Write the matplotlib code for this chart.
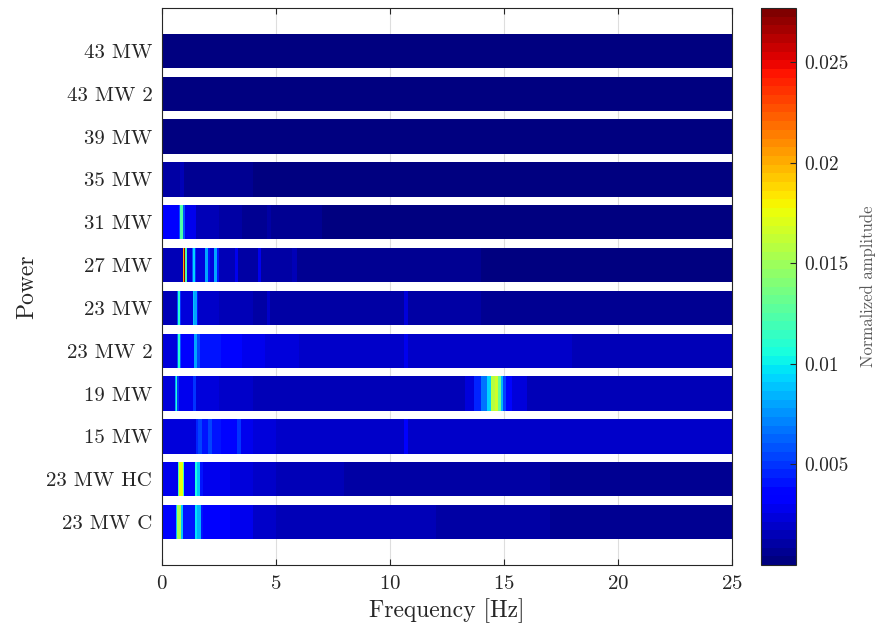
import numpy as np
import matplotlib
matplotlib.use('Agg')
import matplotlib.pyplot as plt
from matplotlib.colors import Normalize

plt.rcParams['font.family'] = ['cmr10', 'DejaVu Serif']
plt.rcParams['axes.formatter.use_mathtext'] = True

# row labels, top to bottom
labels = ['43 MW', '43 MW 2', '39 MW', '35 MW', '31 MW', '27 MW',
          '23 MW', '23 MW 2', '19 MW', '15 MW', '23 MW HC', '23 MW C']

# spectra: (upper frequency of segment [Hz], amplitude)
mw43 = [(3.0, 0.0004), (25.0, 0.0003)]
mw43_2 = [(3.0, 0.0004), (25.0, 0.0003)]
mw39 = [(3.0, 0.0004), (25.0, 0.0003)]
mw35 = [(0.8, 0.0011), (0.95, 0.0015), (2.0, 0.0007), (4.0, 0.0005), (25.0, 0.0003)]
mw31 = [(0.75, 0.0032), (0.8, 0.006), (0.92, 0.0125), (1.0, 0.006), (1.5, 0.0026),
        (2.5, 0.0016), (3.5, 0.0012), (4.6, 0.0008), (4.8, 0.0011), (7.0, 0.0006),
        (25.0, 0.0004)]
mw27 = [(0.9, 0.0016), (0.95, 0.02), (1.03, 0.0265), (1.08, 0.012), (1.3, 0.0022),
        (1.35, 0.006), (1.45, 0.0095), (1.5, 0.005), (1.9, 0.0022), (2.0, 0.008),
        (2.1, 0.004), (2.3, 0.0022), (2.4, 0.0078), (2.5, 0.004), (3.2, 0.0016),
        (3.35, 0.003), (4.2, 0.0012), (4.35, 0.0026), (5.7, 0.0009), (5.9, 0.0016),
        (9.0, 0.0007), (14.0, 0.0006), (25.0, 0.0004)]
mw23 = [(0.65, 0.0016), (0.7, 0.006), (0.8, 0.0112), (0.85, 0.005), (1.35, 0.0022),
        (1.42, 0.009), (1.52, 0.008), (1.6, 0.004), (2.5, 0.0018), (4.0, 0.0015),
        (4.6, 0.0012), (4.75, 0.0021), (7.0, 0.0011), (10.6, 0.001), (10.8, 0.0022),
        (14.0, 0.0009), (19.0, 0.0008), (25.0, 0.0007)]
mw23_2 = [(0.65, 0.0022), (0.7, 0.006), (0.8, 0.011), (0.85, 0.006), (1.4, 0.0032),
          (1.55, 0.0082), (1.65, 0.0055), (2.6, 0.0042), (3.5, 0.0035), (4.5, 0.0026),
          (6.0, 0.0022), (10.6, 0.0019), (10.8, 0.003), (18.0, 0.0019), (25.0, 0.0017)]
mw19 = [(0.55, 0.0022), (0.6, 0.008), (0.68, 0.011), (0.75, 0.005), (1.35, 0.0028),
        (1.5, 0.005), (2.5, 0.0024), (4.0, 0.002), (7.0, 0.0015), (13.3, 0.0013),
        (13.7, 0.0025), (14.0, 0.0045), (14.25, 0.0065), (14.45, 0.0095), (14.6, 0.016),
        (14.75, 0.0165), (14.85, 0.013), (14.95, 0.0085), (15.1, 0.0055), (15.35, 0.0035),
        (16.0, 0.0022), (25.0, 0.0016)]
mw15 = [(1.5, 0.0022), (1.6, 0.0045), (1.75, 0.0055), (2.0, 0.004), (2.2, 0.0052),
        (2.6, 0.0042), (3.3, 0.0035), (3.45, 0.005), (4.0, 0.003), (5.0, 0.0023),
        (10.6, 0.0019), (10.8, 0.0032), (25.0, 0.0018)]
mw23_hc = [(0.7, 0.003), (0.75, 0.012), (0.9, 0.0175), (0.95, 0.012), (1.45, 0.0035),
           (1.55, 0.0105), (1.68, 0.009), (1.78, 0.004), (3.0, 0.0027), (4.0, 0.0023),
           (5.0, 0.0018), (8.0, 0.0015), (12.0, 0.0012), (17.0, 0.001), (25.0, 0.0008)]
mw23_c = [(0.6, 0.0035), (0.68, 0.009), (0.82, 0.0155), (0.9, 0.009), (1.45, 0.004),
          (1.55, 0.0098), (1.7, 0.0085), (1.8, 0.0042), (3.0, 0.0032), (4.0, 0.0027),
          (5.0, 0.0021), (8.0, 0.0016), (12.0, 0.0013), (17.0, 0.001), (25.0, 0.0008)]

rows = [mw43, mw43_2, mw39, mw35, mw31, mw27, mw23, mw23_2, mw19, mw15, mw23_hc, mw23_c]

txt = (0.15, 0.15, 0.15)
cmap = plt.get_cmap('jet', 64)
norm = Normalize(vmin=0.0, vmax=0.0277)

fig = plt.figure(figsize=(8.77, 6.35), dpi=100)
ax = fig.add_axes([0.1847, 0.1102, 0.65, 0.8772])
cax = fig.add_axes([0.8677, 0.1102, 0.04, 0.8772])

n = len(rows)
for i, segs in enumerate(rows):
    y = n - i
    edges = [0.0] + [s[0] for s in segs]
    vals = np.array([[s[1] for s in segs]])
    ax.pcolormesh(edges, [y - 0.4, y + 0.4], vals, cmap=cmap, norm=norm,
                  shading='flat', zorder=2)

ax.set_xlim(0, 25)
ax.set_ylim(0, n + 1)
ax.set_xticks([0, 5, 10, 15, 20, 25])
ax.set_yticks(range(n, 0, -1))
ax.set_yticklabels(labels)
ax.grid(axis='x', color=(0.87, 0.87, 0.87), linewidth=0.8, zorder=0)
ax.set_axisbelow(True)
ax.tick_params(direction='in', top=True, right=True, labelsize=15,
               colors=txt, length=4)
ax.tick_params(axis='x', pad=7)
ax.tick_params(axis='y', length=0, pad=7)
ax.set_xlabel('Frequency [Hz]', fontsize=17, color=txt, labelpad=4)
ax.set_ylabel('Power', fontsize=17, color=txt, labelpad=6)
for sp in ax.spines.values():
    sp.set_color(txt)
    sp.set_linewidth(0.8)

sm = plt.cm.ScalarMappable(norm=norm, cmap=cmap)
cb = fig.colorbar(sm, cax=cax)
cb.set_ticks([0.005, 0.01, 0.015, 0.02, 0.025])
cb.set_ticklabels(['0.005', '0.01', '0.015', '0.02', '0.025'])
cb.ax.tick_params(direction='in', labelsize=14, colors=txt, length=4, pad=6)
cb.outline.set_edgecolor(txt)
cb.outline.set_linewidth(0.8)
cb.set_label('Normalized amplitude', fontsize=12, color=(0.35, 0.35, 0.35), labelpad=8)

fig.savefig('out.png', dpi=100)
